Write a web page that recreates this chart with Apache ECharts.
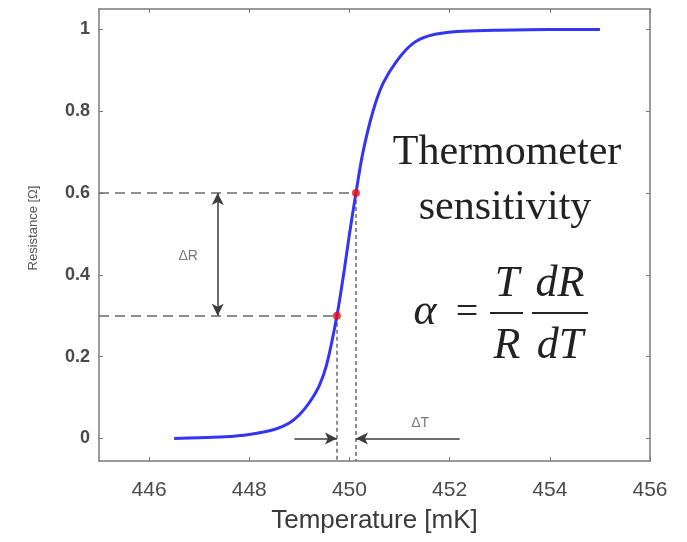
<!DOCTYPE html>
<html>
<head>
<meta charset="utf-8">
<title>Thermometer sensitivity</title>
<script src="https://cdn.jsdelivr.net/npm/echarts@6/dist/echarts.min.js"></script>
<style>
  html, body { margin: 0; padding: 0; background: #ffffff; }
  #chart { width: 687px; height: 542px; }
</style>
</head>
<body>
<div id="chart"></div>
<script>
// Superconducting transition: resistance vs temperature
const temperature = [446.5, 447.0, 447.5, 448.0, 448.5, 448.8, 449.0, 449.2, 449.4, 449.55, 449.75, 449.9, 450.0, 450.13, 450.27, 450.47, 450.67, 450.95, 451.27, 451.6, 452.15, 452.9, 454.0, 455.0];
const resistance  = [0.0,   0.002, 0.004, 0.01,  0.022, 0.038, 0.058, 0.088, 0.13,  0.183,  0.30,   0.415, 0.50,  0.60,   0.70,   0.80,   0.868,  0.924,  0.966,  0.985, 0.995,  0.998, 1.0,   1.0];

// Two marked operating points on the transition
const markT = [449.75, 450.13];
const markR = [0.30, 0.60];

// Axis ticks
const xTicks = [446, 448, 450, 452, 454, 456];
const yTicks = [0, 0.2, 0.4, 0.6, 0.8, 1];
const xRange = [445, 456];
const yRange = [-0.055, 1.05];

// Annotation anchors (data coordinates)
const deltaRArrowT = 447.37;
const deltaTArrowStart = [448.9, 452.2];
const deltaRLabel = [446.78, 0.445];
const deltaTLabel = [451.41, 0.037];

const curve = temperature.map((t, i) => [t, resistance[i]]);
const points = markT.map((t, i) => [t, markR[i]]);

const axisColor = '#7a7a7a';
const sansFont = '"Liberation Sans", Arial, sans-serif';
const serifFont = '"Liberation Serif", "Times New Roman", serif';

const chart = echarts.init(document.getElementById('chart'), null, { renderer: 'canvas' });

const frameAxis = (extra) => Object.assign({
  type: 'value',
  axisLine: { show: true, onZero: false, lineStyle: { color: axisColor, width: 1.5 } },
  splitLine: { show: false },
  axisTick: { show: true, inside: true, length: 4, lineStyle: { color: axisColor } }
}, extra);

// Text block beside the curve
const textItem = (str, x, y, font) => ({
  type: 'text', x: x, y: y,
  style: { text: str, font: font, fill: '#222222', align: 'center', verticalAlign: 'middle' }
});

chart.setOption({
  animation: false,
  backgroundColor: '#ffffff',
  grid: { left: 99, top: 9, right: 37, bottom: 81, containLabel: false },
  xAxis: [
    frameAxis({
      position: 'bottom', min: xRange[0], max: xRange[1],
      axisTick: { show: true, inside: true, length: 4, customValues: xTicks, lineStyle: { color: axisColor } },
      axisLabel: { customValues: xTicks, fontSize: 21, color: '#4a4a4a', margin: 19, fontFamily: sansFont },
      name: 'Temperature [mK]', nameLocation: 'middle', nameGap: 47,
      nameTextStyle: { fontSize: 26, color: '#3a3a3a', fontFamily: sansFont }
    }),
    frameAxis({
      position: 'top', min: xRange[0], max: xRange[1],
      axisTick: { show: true, inside: true, length: 4, customValues: xTicks, lineStyle: { color: axisColor } },
      axisLabel: { show: false }
    })
  ],
  yAxis: [
    frameAxis({
      position: 'left', min: yRange[0], max: yRange[1],
      axisTick: { show: true, inside: true, length: 4, customValues: yTicks, lineStyle: { color: axisColor } },
      axisLabel: { customValues: yTicks, fontSize: 18, fontWeight: 'bold', color: '#4a4a4a', margin: 9, fontFamily: sansFont },
      name: 'Resistance [\u03A9]', nameLocation: 'middle', nameGap: 59,
      nameTextStyle: { fontSize: 13, color: '#555555', fontFamily: sansFont, padding: [0, 0, 0, 14] }
    }),
    frameAxis({
      position: 'right', min: yRange[0], max: yRange[1],
      axisTick: { show: true, inside: true, length: 4, customValues: yTicks, lineStyle: { color: axisColor } },
      axisLabel: { show: false }
    })
  ],
  series: [
    {
      // dashed guides from the marked points to the axes
      type: 'line', data: [], silent: true,
      markLine: {
        silent: true, symbol: 'none', label: { show: false }, animation: false,
        data: [
          [{ coord: [xRange[0], markR[1]], lineStyle: { type: [10, 6] } }, { coord: [markT[1], markR[1]] }],
          [{ coord: [xRange[0], markR[0]], lineStyle: { type: [10, 6] } }, { coord: [markT[0], markR[0]] }],
          [{ coord: [markT[0], markR[0]], lineStyle: { type: [4, 3] } }, { coord: [markT[0], yRange[0]] }],
          [{ coord: [markT[1], markR[1]], lineStyle: { type: [4, 3] } }, { coord: [markT[1], yRange[0]] }]
        ],
        lineStyle: { color: '#6a6a6a', width: 1.5 }
      }
    },
    {
      // ΔR and ΔT arrows
      type: 'line', data: [], silent: true,
      markLine: {
        silent: true, label: { show: false }, animation: false,
        symbolSize: [9, 12],
        lineStyle: { color: '#3c3c3c', width: 1.5, type: 'solid' },
        data: [
          [{ coord: [deltaRArrowT, markR[1]], symbol: 'arrow' }, { coord: [deltaRArrowT, markR[0]], symbol: 'arrow' }],
          [{ coord: [deltaTArrowStart[0], 0], symbol: 'none' }, { coord: [markT[0], 0], symbol: 'arrow' }],
          [{ coord: [deltaTArrowStart[1], 0], symbol: 'none' }, { coord: [markT[1], 0], symbol: 'arrow' }]
        ]
      }
    },
    {
      type: 'line', name: 'R(T)', data: curve, showSymbol: false,
      smooth: 0.35,
      lineStyle: { color: '#3434f4', width: 3 }, z: 5
    },
    {
      type: 'scatter', data: points, symbolSize: 8,
      itemStyle: { color: '#ee1111' }, z: 6
    },
    {
      type: 'scatter', symbolSize: 0, silent: true,
      data: [
        { value: deltaRLabel, label: { formatter: '\u0394R' } },
        { value: deltaTLabel, label: { formatter: '\u0394T' } }
      ],
      label: { show: true, position: 'inside', fontSize: 14, color: '#555555', fontFamily: sansFont }
    }
  ],
  graphic: [
    textItem('Thermometer', 507, 153, '42px ' + serifFont),
    textItem('sensitivity', 505, 208, '42px ' + serifFont),
    textItem('\u03B1', 425, 312, 'italic 44px ' + serifFont),
    textItem('=', 467, 313, '40px ' + serifFont),
    textItem('T', 507, 284, 'italic 44px ' + serifFont),
    textItem('R', 507, 346, 'italic 44px ' + serifFont),
    textItem('dR', 560, 284, 'italic 44px ' + serifFont),
    textItem('dT', 560, 346, 'italic 44px ' + serifFont),
    { type: 'line', shape: { x1: 490, y1: 313, x2: 523, y2: 313 }, style: { stroke: '#222222', lineWidth: 2 } },
    { type: 'line', shape: { x1: 532, y1: 313, x2: 588, y2: 313 }, style: { stroke: '#222222', lineWidth: 2 } }
  ]
});
</script>
</body>
</html>
